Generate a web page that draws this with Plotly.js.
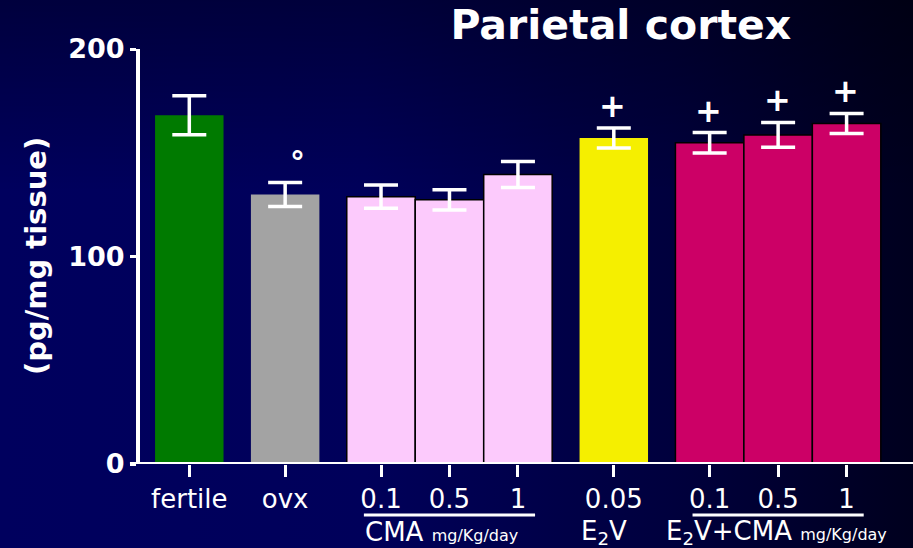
<!DOCTYPE html>
<html>
<head>
<meta charset="utf-8">
<script src="https://cdn.plot.ly/plotly-3.0.1.min.js"></script>
<style>
  html, body { margin: 0; padding: 0; }
  #chart {
    width: 913px; height: 548px;
    background:
      linear-gradient(to bottom, rgba(0,0,0,0.35) 0%, rgba(0,0,0,0) 35%),
      linear-gradient(to right, #00005e 0%, #00005a 40%, #00003c 75%, #00001e 100%);
  }
</style>
</head>
<body>
<div id="chart"></div>
<script>
// ---- data ----
const categories = ['fertile', 'ovx', '0.1', '0.5', '1', '0.05', '0.1', '0.5', '1'];
const groupOf    = [0, 1, 2, 2, 2, 3, 4, 4, 4];
const means      = [168.1, 129.9, 128.8, 127.3, 139.5, 157.1, 154.8, 158.6, 164.1];
const sem        = [9.4, 5.8, 5.6, 4.85, 6.25, 4.8, 4.95, 6.0, 4.85];
const marks      = ['', '°', '', '', '', '+', '+', '+', '+'];
const groupNames = ['', '', 'CMA <span style="font-size:16px">mg/Kg/day</span>', 'E<sub>2</sub>V',
                    'E<sub>2</sub>V+CMA <span style="font-size:16px">mg/Kg/day</span>'];
const underlinedGroups = [2, 4];
const title = 'Parietal cortex';
const yTitle = '(pg/mg tissue)';
const yTicks = [0, 100, 200];

// ---- styles / layout ----
const groupColors = ['#007a00', '#a3a3a3', '#fccafc', '#f5ef00', '#cc0066'];
const groupOutline = [0, 0, 1.5, 0, 1.5];
const groupLabelShift = [0, 0, -8, -10, -2];
const groupGap = 0.4;
const WHITE = '#ffffff';
const FONT = 'DejaVu Sans, Verdana, sans-serif';

// positions derived from group structure
const pos = [];
let p = 0;
for (let i = 0; i < categories.length; i++) {
  if (i > 0) p += 1 + (groupOf[i] !== groupOf[i - 1] ? groupGap : 0);
  pos.push(p);
}

const bars = {
  type: 'bar',
  x: pos,
  y: means,
  width: 1,
  marker: {
    color: groupOf.map(g => groupColors[g]),
    line: { color: '#000000', width: groupOf.map(g => groupOutline[g]) }
  },
  error_y: { type: 'data', array: sem, visible: true, color: WHITE, thickness: 3.5, width: 17 },
  hoverinfo: 'none'
};

const annotations = [];
// significance marks
marks.forEach((m, i) => {
  if (!m) return;
  annotations.push({
    x: pos[i], y: means[i] + sem[i], xref: 'x', yref: 'y',
    text: m, showarrow: false, xanchor: 'center', yanchor: 'middle',
    yshift: m === '°' ? 20 : 22, xshift: m === '°' ? 12 : -1,
    font: { family: FONT, size: m === '°' ? 30 : 32, color: WHITE, weight: 'bold' }
  });
});

const shapes = [
  // extend x-axis line left past the y axis
  { type: 'line', xref: 'paper', yref: 'y', x0: -0.013, x1: 1, y0: 0, y1: 0,
    line: { color: WHITE, width: 4 } }
];

// group labels + underlines
for (let g = 0; g < groupNames.length; g++) {
  if (!groupNames[g]) continue;
  const idx = groupOf.map((v, i) => v === g ? i : -1).filter(i => i >= 0);
  const first = pos[idx[0]], last = pos[idx[idx.length - 1]];
  const center = (first + last) / 2;
  annotations.push({
    x: center, y: -0.165, xref: 'x', yref: 'paper', xshift: groupLabelShift[g],
    text: groupNames[g], showarrow: false, xanchor: 'center', yanchor: 'middle',
    font: { family: FONT, size: 26, color: WHITE }
  });
  if (underlinedGroups.includes(g)) {
    shapes.push({ type: 'line', xref: 'x', yref: 'paper',
      x0: center - 1.25, x1: center + 1.25, y0: -0.123, y1: -0.123,
      line: { color: WHITE, width: 3 } });
  }
}

// y axis title
annotations.push({
  x: -0.1345, y: 0.501, xref: 'paper', yref: 'paper', text: yTitle, textangle: -90,
  showarrow: false, xanchor: 'center', yanchor: 'middle',
  font: { family: FONT, size: 29, color: WHITE, weight: 'bold' }
});

const layout = {
  width: 913, height: 548,
  margin: { l: 140, r: 0, t: 49, b: 84, pad: 0 },
  paper_bgcolor: 'rgba(0,0,0,0)',
  plot_bgcolor: 'rgba(0,0,0,0)',
  showlegend: false,
  title: {
    text: title, x: 0.68, xanchor: 'center', y: 0.955, yanchor: 'middle',
    font: { family: FONT, size: 41, color: WHITE, weight: 'bold' }
  },
  xaxis: {
    range: [-0.72, 10.57],
    tickmode: 'array', tickvals: pos, ticktext: categories,
    ticks: 'outside', ticklen: 12, tickwidth: 3, tickcolor: WHITE,
    showline: false, showgrid: false, zeroline: false,
    tickfont: { family: FONT, size: 26, color: WHITE }
  },
  yaxis: {
    range: [0, 200],
    tickmode: 'array', tickvals: yTicks,
    ticks: 'outside', ticklen: 6, tickwidth: 3, tickcolor: WHITE,
    showline: true, linecolor: WHITE, linewidth: 4,
    showgrid: false, zeroline: false,
    tickfont: { family: FONT, size: 27, color: WHITE, weight: 'bold' }
  },
  annotations: annotations,
  shapes: shapes
};

Plotly.newPlot('chart', [bars], layout, { displayModeBar: false, staticPlot: true });
</script>
</body>
</html>
